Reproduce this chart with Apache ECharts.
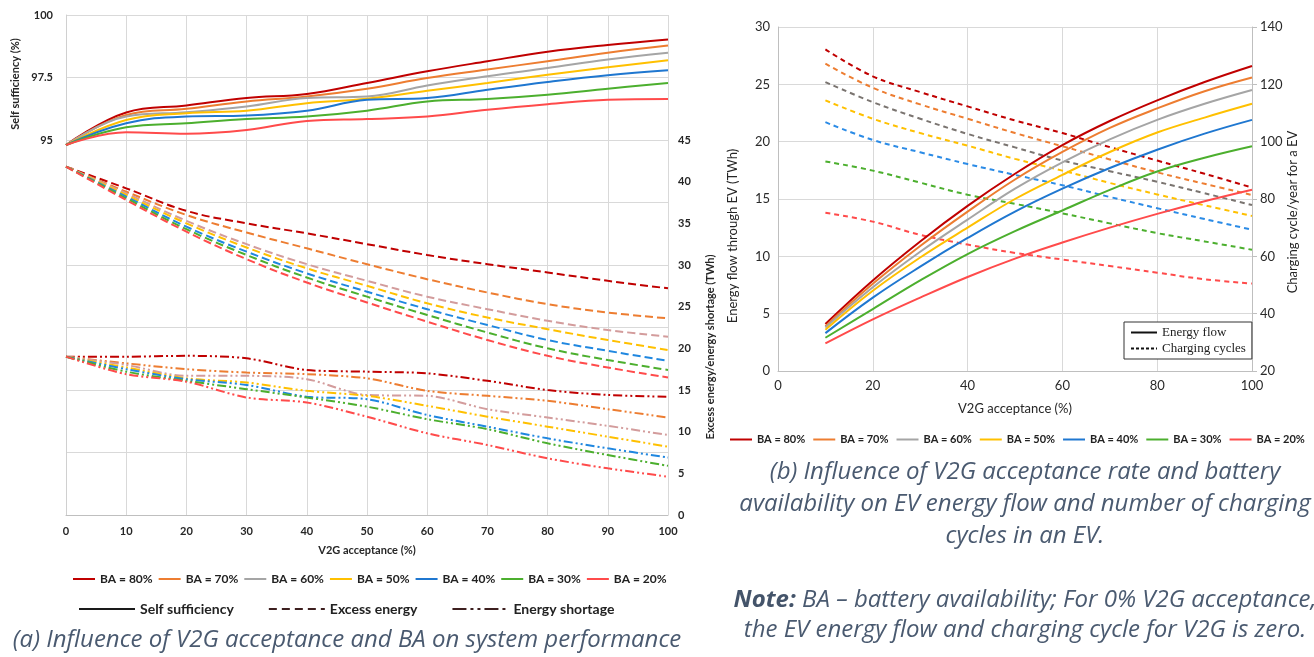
<!DOCTYPE html>
<html><head><meta charset="utf-8">
<script src="https://cdn.jsdelivr.net/npm/echarts@6/dist/echarts.min.js"></script>
<style>html,body{margin:0;padding:0;background:#fff}#c{width:1314px;height:657px}</style>
</head><body><div id="c"></div>
<script>
// ---------- data ----------
const baNames = ['BA = 80%', 'BA = 70%', 'BA = 60%', 'BA = 50%', 'BA = 40%', 'BA = 30%', 'BA = 20%'];
const xLeft = [0, 10, 20, 30, 40, 50, 60, 70, 80, 90, 100];
const xRight = [10, 20, 30, 40, 50, 60, 70, 80, 90, 100];

// (a) self sufficiency (%)
const ss80 = [94.8, 96.1, 96.38, 96.68, 96.84, 97.28, 97.75, 98.15, 98.53, 98.8, 99.02];
const ss70 = [94.8, 96.0, 96.25, 96.54, 96.74, 97.05, 97.48, 97.82, 98.15, 98.49, 98.78];
const ss60 = [94.8, 95.94, 96.11, 96.34, 96.68, 96.74, 97.18, 97.55, 97.88, 98.22, 98.49];
const ss50 = [94.8, 95.8, 96.07, 96.17, 96.47, 96.65, 96.97, 97.28, 97.61, 97.91, 98.19];
const ss40 = [94.8, 95.67, 95.94, 95.98, 96.17, 96.61, 96.68, 97.01, 97.32, 97.59, 97.79];
const ss30 = [94.8, 95.51, 95.67, 95.84, 95.94, 96.17, 96.54, 96.64, 96.81, 97.05, 97.28];
const ss20 = [94.8, 95.31, 95.25, 95.4, 95.76, 95.84, 95.94, 96.21, 96.43, 96.61, 96.64];

// (a) excess energy (TWh)
const ex80 = [41.8, 39.2, 36.5, 35.0, 33.8, 32.5, 31.2, 30.1, 29.1, 28.1, 27.2];
const ex70 = [41.8, 38.8, 36.0, 33.9, 32.0, 30.1, 28.3, 26.7, 25.3, 24.3, 23.6];
const ex60 = [41.8, 38.6, 35.3, 32.5, 30.1, 28.1, 26.2, 24.7, 23.3, 22.2, 21.4];
const ex50 = [41.8, 38.4, 35.0, 32.1, 29.6, 27.5, 25.4, 23.7, 22.3, 21.0, 19.8];
const ex40 = [41.8, 38.2, 34.6, 31.6, 29.0, 26.8, 24.7, 22.8, 21.0, 19.7, 18.5];
const ex30 = [41.8, 38.0, 34.3, 31.2, 28.5, 26.2, 24.0, 21.9, 20.0, 18.6, 17.4];
const ex20 = [41.8, 37.8, 34.0, 30.7, 27.9, 25.5, 23.2, 21.0, 19.1, 17.7, 16.5];

// (a) energy shortage (TWh)
const sh80 = [19.0, 19.0, 19.1, 18.8, 17.4, 17.2, 17.0, 16.1, 15.0, 14.4, 14.2];
const sh70 = [19.0, 18.2, 17.5, 17.1, 16.9, 16.4, 14.9, 14.3, 13.7, 12.7, 11.7];
const sh60 = [19.0, 18.0, 16.7, 16.7, 16.3, 14.4, 14.3, 12.7, 11.7, 10.7, 9.6];
const sh50 = [19.0, 17.7, 16.4, 15.9, 14.9, 14.3, 13.1, 11.8, 10.6, 9.4, 8.2];
const sh40 = [19.0, 17.5, 16.3, 15.6, 14.2, 13.9, 12.0, 10.6, 9.2, 8.0, 6.9];
const sh30 = [19.0, 17.2, 16.1, 15.1, 14.1, 13.0, 11.5, 10.3, 8.6, 7.2, 5.9];
const sh20 = [19.0, 16.9, 16.0, 14.1, 13.5, 11.8, 9.8, 8.4, 6.8, 5.6, 4.6];

// (b) energy flow through EV (TWh)
const ef80 = [4.1, 7.9, 11.3, 14.4, 17.2, 19.7, 21.8, 23.6, 25.2, 26.6];
const ef70 = [3.9, 7.6, 10.9, 13.9, 16.7, 19.1, 21.2, 22.9, 24.4, 25.6];
const ef60 = [3.8, 7.3, 10.4, 13.2, 15.9, 18.2, 20.2, 21.9, 23.3, 24.5];
const ef50 = [3.6, 7.0, 9.9, 12.5, 15.0, 17.1, 19.1, 20.8, 22.1, 23.3];
const ef40 = [3.3, 6.4, 9.1, 11.6, 13.9, 15.9, 17.7, 19.3, 20.7, 21.9];
const ef30 = [2.9, 5.4, 7.9, 10.2, 12.2, 14.0, 15.8, 17.4, 18.6, 19.6];
const ef20 = [2.4, 4.5, 6.4, 8.2, 9.8, 11.2, 12.5, 13.7, 14.8, 15.8];

// (b) charging cycles / year for an EV
const cc80 = [132.2, 122.8, 117.3, 112.3, 107.4, 103.0, 98.1, 93.4, 88.8, 84.0];
const cc70 = [127.2, 118.8, 113.0, 108.0, 103.0, 98.4, 93.8, 89.3, 85.3, 81.4];
const cc60 = [120.8, 113.8, 108.0, 102.7, 98.0, 93.4, 89.7, 86.0, 82.0, 77.9];
const cc50 = [114.4, 108.0, 103.0, 98.6, 94.0, 89.9, 85.6, 81.6, 77.8, 74.1];
const cc40 = [106.8, 100.6, 96.3, 92.2, 88.4, 84.8, 80.7, 76.8, 73.0, 69.3];
const cc30 = [93.1, 89.9, 85.7, 81.5, 78.3, 75.0, 71.5, 68.1, 65.2, 62.3];
const cc20 = [75.2, 72.1, 67.5, 64.1, 61.2, 58.9, 56.6, 54.3, 52.0, 50.5];

const ssAll = [ss80, ss70, ss60, ss50, ss40, ss30, ss20];
const exAll = [ex80, ex70, ex60, ex50, ex40, ex30, ex20];
const shAll = [sh80, sh70, sh60, sh50, sh40, sh30, sh20];
const efAll = [ef80, ef70, ef60, ef50, ef40, ef30, ef20];
const ccAll = [cc80, cc70, cc60, cc50, cc40, cc30, cc20];

// ---------- styles ----------
const colSolid = ['#C00000', '#ED7D31', '#A5A5A5', '#FFC000', '#1F77D0', '#4CAF2E', '#FF4B4B'];
const colLeftDash = ['#C00000', '#ED7D31', '#D39C9C', '#FFC000', '#1F87E0', '#4CAF2E', '#FF4B4B'];
const colRightDash = ['#C00000', '#ED7D31', '#7A7470', '#FFC000', '#2B8BE6', '#4CAF2E', '#FF4B4B'];
const FONT = 'Lato, "Open Sans", sans-serif';
const CAPFONT = '"Open Sans", Lato, sans-serif';
const dashA = [8, 4];
const dashDotDot = [9, 3, 2, 3, 2, 3];
const dashB = [5, 4];

const pairs = (xs, ys) => xs.map((x, i) => [x, ys[i]]);
const series = [];
baNames.forEach((n, i) => {
  series.push({name: n, type: 'line', xAxisIndex: 0, yAxisIndex: 0, data: pairs(xLeft, ssAll[i]),
    smooth: 0.4, symbol: 'none', color: colSolid[i], lineStyle: {width: 2, color: colSolid[i]}, z: 5});
});
baNames.forEach((n, i) => {
  series.push({name: n, type: 'line', xAxisIndex: 0, yAxisIndex: 1, data: pairs(xLeft, exAll[i]),
    smooth: 0.4, symbol: 'none', color: colLeftDash[i], lineStyle: {width: 2, color: colLeftDash[i], type: dashA}, z: 4});
  series.push({name: n, type: 'line', xAxisIndex: 0, yAxisIndex: 1, data: pairs(xLeft, shAll[i]),
    smooth: 0.3, symbol: 'none', color: colLeftDash[i], lineStyle: {width: 2, color: colLeftDash[i], type: dashDotDot}, z: 4});
});
baNames.forEach((n, i) => {
  series.push({name: n, type: 'line', xAxisIndex: 1, yAxisIndex: 2, data: pairs(xRight, efAll[i]),
    smooth: 0.4, symbol: 'none', color: colSolid[i], lineStyle: {width: 2, color: colSolid[i]}, z: 5});
  series.push({name: n, type: 'line', xAxisIndex: 1, yAxisIndex: 3, data: pairs(xRight, ccAll[i]),
    smooth: 0.4, symbol: 'none', color: colRightDash[i], lineStyle: {width: 2, color: colRightDash[i], type: dashB}, z: 4});
});
// style-key entries (legend only, no data)
const keySeries = [
  ['Self sufficiency', '#1a1a1a', 'solid', 2.5],
  ['Excess energy', '#3d1f1f', [8, 5], 2.5],
  ['Energy shortage', '#3d1f1f', [14, 4, 3, 4, 3, 4], 2.5],
  ['Energy flow', '#111', 'solid', 1.5],
  ['Charging cycles', '#111', [3, 2], 1.5]
];
keySeries.forEach(k => series.push({name: k[0], type: 'line', xAxisIndex: 0, yAxisIndex: 0, data: [],
  symbol: 'none', color: k[1], lineStyle: {color: k[1], type: k[2], width: k[3]}}));

const gridLine = {lineStyle: {color: '#d9d9d9', width: 1}};
const lblA = {fontFamily: FONT, fontWeight: 'bold', fontSize: 11, color: '#262626'};
const lblB = {fontFamily: FONT, fontSize: 13, color: '#2a2a2a'};
const capStyle = (t, x, y) => ({type: 'text', x: x, y: y, style: {text: t, font: 'italic 400 24px ' + CAPFONT, fill: '#4A5A70',
  textAlign: 'center', align: 'center', textVerticalAlign: 'middle', verticalAlign: 'middle'}});
const vText = (t, x, y, font) => ({type: 'text', x: x, y: y, rotation: Math.PI / 2,
  style: {text: t, font: font, fill: '#262626', textAlign: 'center', align: 'center', textVerticalAlign: 'middle', verticalAlign: 'middle'}});
const hText = (t, x, y, font) => ({type: 'text', x: x, y: y,
  style: {text: t, font: font, fill: '#262626', textAlign: 'center', align: 'center', textVerticalAlign: 'middle', verticalAlign: 'middle'}});
const hideSym = {opacity: 0};

const option = {
  animation: false,
  backgroundColor: '#fff',
  grid: [
    {left: 66, top: 15, width: 602, height: 500},
    {left: 778, top: 27, width: 474, height: 344}
  ],
  xAxis: [
    {type: 'value', gridIndex: 0, min: 0, max: 100, interval: 10,
      axisLine: {lineStyle: {color: '#bfbfbf'}}, axisTick: {show: false},
      axisLabel: Object.assign({margin: 11}, lblA), splitLine: gridLine},
    {type: 'value', gridIndex: 1, min: 0, max: 100, interval: 20,
      axisLine: {lineStyle: {color: '#bfbfbf'}}, axisTick: {show: false},
      axisLabel: Object.assign({margin: 8}, lblB), splitLine: gridLine}
  ],
  yAxis: [
    {type: 'value', gridIndex: 0, position: 'left', min: 80, max: 100, interval: 2.5,
      axisLine: {show: true, lineStyle: {color: '#d0d0d0'}}, axisTick: {show: false},
      axisLabel: Object.assign({margin: 13, formatter: v => (v >= 95 ? String(v) : '')}, lblA), splitLine: gridLine},
    {type: 'value', gridIndex: 0, position: 'right', min: 0, max: 60, interval: 5,
      axisLine: {show: false}, axisTick: {show: false}, splitLine: {show: false},
      axisLabel: Object.assign({margin: 10, formatter: v => (v <= 45 ? String(v) : '')}, lblA)},
    {type: 'value', gridIndex: 1, position: 'left', min: 0, max: 30, interval: 5,
      axisLine: {show: true, lineStyle: {color: '#bfbfbf'}}, axisTick: {show: false},
      axisLabel: Object.assign({margin: 8}, lblB), splitLine: gridLine},
    {type: 'value', gridIndex: 1, position: 'right', min: 20, max: 140, interval: 20,
      axisLine: {show: true, lineStyle: {color: '#bfbfbf'}}, axisTick: {show: true, length: 5, lineStyle: {color: '#bfbfbf'}},
      splitLine: {show: false}, axisLabel: Object.assign({margin: 8}, lblB)}
  ],
  legend: [
    {data: baNames, left: 67, top: 568, itemWidth: 22, itemHeight: 10, itemGap: 5, itemStyle: hideSym,
      textStyle: {fontFamily: FONT, fontWeight: 'bold', fontSize: 12, color: '#222'}},
    {data: ['Self sufficiency', 'Excess energy', 'Energy shortage'], left: 73, top: 597, itemWidth: 56, itemHeight: 10, itemGap: 34,
      itemStyle: hideSym, textStyle: {fontFamily: FONT, fontWeight: 'bold', fontSize: 14, color: '#222'}},
    {data: baNames, left: 724, top: 429, itemWidth: 22, itemHeight: 10, itemGap: 7, itemStyle: hideSym,
      textStyle: {fontFamily: FONT, fontWeight: 'bold', fontSize: 11, color: '#222'}},
    {data: ['Energy flow', 'Charging cycles'], orient: 'vertical', left: 1124, top: 322, itemWidth: 26, itemHeight: 10, itemGap: 3,
      itemStyle: hideSym, padding: [4, 6, 4, 6], borderColor: '#333', borderWidth: 1, backgroundColor: '#fff',
      textStyle: {fontFamily: '"Liberation Serif", serif', fontSize: 13, color: '#222'}}
  ],
  graphic: [
    vText('Self sufficiency (%)', 15, 84, 'bold 11px ' + FONT),
    vText('Excess energy/energy shortage (TWh)', 710, 347, 'bold 11px ' + FONT),
    hText('V2G acceptance (%)', 367, 550, 'bold 11px ' + FONT),
    vText('Energy flow through EV (TWh)', 733, 236, '13px ' + FONT),
    vText('Charging cycle/year for a EV', 1293, 212, '13px ' + FONT),
    hText('V2G acceptance (%)', 1015, 409, '13px ' + FONT),
    capStyle('(a) Influence of V2G acceptance and BA on system performance', 347, 640),
    capStyle('(b) Influence of V2G acceptance rate and battery', 1025, 472),
    capStyle('availability on EV energy flow and number of charging', 1025, 504),
    capStyle('cycles in an EV.', 1025, 536),
    {type: 'text', x: 1025, y: 600, style: {text: '{b|Note:} BA \u2013 battery availability; For 0% V2G acceptance,',
      font: 'italic 400 24px ' + CAPFONT, fill: '#4A5A70', textAlign: 'center', align: 'center', textVerticalAlign: 'middle', verticalAlign: 'middle',
      rich: {b: {font: 'italic bold 24px ' + CAPFONT, fill: '#44546A', fontStyle: 'italic', fontWeight: 'bold', fontSize: 24, fontFamily: CAPFONT}}}},
    capStyle('the EV energy flow and charging cycle for V2G is zero.', 1025, 630)
  ],
  series: series
};
const chart = echarts.init(document.getElementById('c'), null, {renderer: 'canvas'});
chart.setOption(option);
</script></body></html>
